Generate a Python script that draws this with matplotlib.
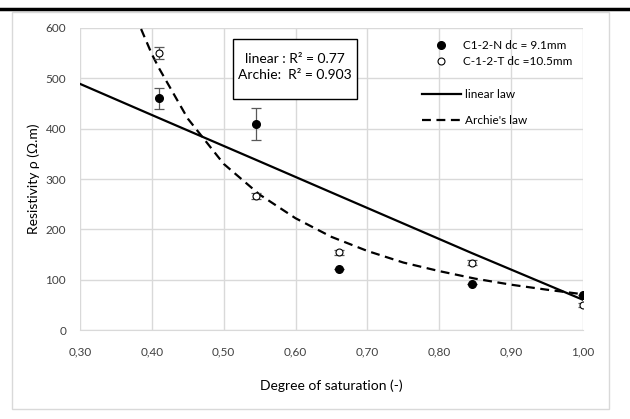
import matplotlib
matplotlib.use("Agg")
import matplotlib.pyplot as plt
from matplotlib.lines import Line2D
from matplotlib.patches import Rectangle

plt.rcParams['font.family'] = ['Lato', 'DejaVu Sans']

# sample C1-2-N (filled)
sat_n = [0.41, 0.545, 0.66, 0.845, 1.00]
rho_n = [460, 410, 121, 92, 70]
err_n = [20, 32, 0, 0, 0]

# sample C-1-2-T (open)
sat_t = [0.41, 0.545, 0.66, 0.845, 1.00]
rho_t = [551, 267, 154, 134, 50]
err_t = [12, 6, 5, 5, 4]

# linear law
lin_s = [0.30, 0.41, 0.545, 0.66, 0.845, 1.00]
lin_r = [489, 421, 338, 267, 153, 60]

# Archie's law
arc_s = [0.385, 0.40, 0.41, 0.45, 0.50, 0.55, 0.60, 0.65, 0.70, 0.75, 0.80, 0.85, 0.90, 0.95, 1.00]
arc_r = [598, 548, 520, 420, 330, 269, 222, 185, 157, 134, 117, 102, 90, 80, 71]

xticks = [0.30, 0.40, 0.50, 0.60, 0.70, 0.80, 0.90, 1.00]
xlabels = ['0,30', '0,40', '0,50', '0,60', '0,70', '0,80', '0,90', '1,00']
yticks = [0, 100, 200, 300, 400, 500, 600]

fig = plt.figure(figsize=(6.3, 4.19), dpi=100)
fig.patches.append(Rectangle((12 / 630, 1 - 409 / 419), 597 / 630, 397 / 419,
                             transform=fig.transFigure, fill=False,
                             edgecolor='#d9d9d9', lw=1))
fig.add_artist(Line2D([0, 1], [1 - 9 / 419, 1 - 9 / 419], transform=fig.transFigure,
                      color='black', lw=2.5))

ax = fig.add_axes([80 / 630, 1 - 330 / 419, 503 / 630, 302 / 419])
ax.set_xlim(0.30, 1.00)
ax.set_ylim(0, 600)
ax.set_xticks(xticks)
ax.set_xticklabels(xlabels)
ax.set_yticks(yticks)
ax.grid(True, color='#d9d9d9', lw=1)
ax.set_axisbelow(True)
for s in ['top', 'right', 'left']:
    ax.spines[s].set_visible(False)
ax.spines['bottom'].set_color('#d9d9d9')
ax.tick_params(length=0, labelsize=8.5, labelcolor='#404040')
ax.tick_params(axis='x', pad=12)
ax.tick_params(axis='y', pad=10)

lin_line, = ax.plot(lin_s, lin_r, color='black', lw=1.6)
arc_line, = ax.plot(arc_s, arc_r, color='black', lw=1.6, dashes=(4, 2.5))

ax.errorbar(sat_n, rho_n, yerr=err_n, fmt='none', ecolor='#595959',
            elinewidth=0.9, capsize=3.5, capthick=0.9, zorder=3)
ax.errorbar(sat_t, rho_t, yerr=err_t, fmt='none', ecolor='#595959',
            elinewidth=0.9, capsize=3.5, capthick=0.9, zorder=3)
pts_n, = ax.plot(sat_n, rho_n, 'o', color='black', ms=5.5, zorder=4)
pts_t, = ax.plot(sat_t, rho_t, 'o', mfc='white', mec='black', mew=0.8, ms=5, zorder=4)

leg1 = ax.legend([pts_n, pts_t], ['C1-2-N dc = 9.1mm', 'C-1-2-T dc =10.5mm'],
                 loc='upper left', bbox_to_anchor=(345 / 503, 1 - 5 / 302), frameon=False,
                 fontsize=8.5, handlelength=1.5, labelspacing=0.45,
                 handletextpad=1.1, borderaxespad=0.2)
ax.add_artist(leg1)
ax.legend([lin_line, arc_line], ['linear law', "Archie's law"],
          loc='upper left', bbox_to_anchor=(335 / 503, 1 - 54 / 302), frameon=False,
          fontsize=8.5, handlelength=3.3, labelspacing=1.3,
          handletextpad=0.3, borderaxespad=0.2)

# R² box
ax.add_patch(Rectangle(((233 - 80) / 503, (330 - 99) / 302), 124 / 503, 60 / 302,
                       transform=ax.transAxes, fc='white', ec='black', lw=1, zorder=5))
ax.text((295 - 80) / 503, (330 - 67) / 302,
        'linear : R\u00b2 = 0.77\nArchie:  R\u00b2 = 0.903',
        transform=ax.transAxes, ha='center', va='center', fontsize=10,
        linespacing=1.45, zorder=6)

ax.set_xlabel('Degree of saturation (-)', fontsize=10, labelpad=16)
ax.set_ylabel('Resistivity \u03c1 (\u03a9.m)', fontsize=10, labelpad=4)

fig.savefig('out.png', dpi=100)
